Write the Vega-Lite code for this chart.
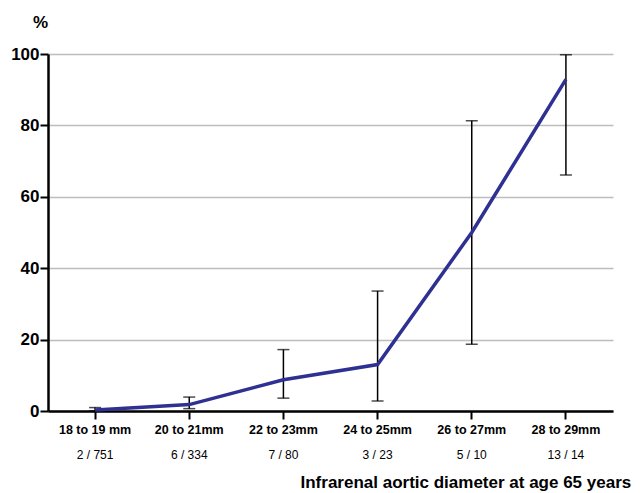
{
  "$schema": "https://vega.github.io/schema/vega-lite/v6.json",
  "width": 565,
  "height": 357,
  "autosize": {"type": "none"},
  "padding": {"left": 48, "top": 54, "right": 28, "bottom": 82},
  "background": "white",
  "config": {"font": "Liberation Sans", "view": {"stroke": null}},
  "data": {"values": [
    {"cat": "18 to 19 mm|2 / 751", "pct": 0.27, "lo": 0.03, "hi": 0.96},
    {"cat": "20 to 21mm|6 / 334", "pct": 1.8, "lo": 0.66, "hi": 3.9},
    {"cat": "22 to 23mm|7 / 80", "pct": 8.75, "lo": 3.6, "hi": 17.2},
    {"cat": "24 to 25mm|3 / 23", "pct": 13.0, "lo": 2.8, "hi": 33.6},
    {"cat": "26 to 27mm|5 / 10", "pct": 50.0, "lo": 18.7, "hi": 81.3},
    {"cat": "28 to 29mm|13 / 14", "pct": 92.9, "lo": 66.1, "hi": 99.8}
  ]},
  "resolve": {"axis": {"x": "independent"}},
  "layer": [
    {
      "mark": {"type": "rule", "color": "black", "strokeWidth": 1.5},
      "encoding": {
        "x": {"field": "cat", "type": "nominal", "sort": null,
          "scale": {"paddingInner": 0, "paddingOuter": 0},
          "axis": {"orient": "bottom", "labelExpr": "split(datum.value, '|')[1]", "labelAngle": 0, "domain": false, "ticks": false,
            "labelFontSize": 12, "labelFontWeight": "normal", "labelColor": "black", "labelPadding": 38,
            "title": "Infrarenal aortic diameter at age 65 years", "titleFontSize": 17, "titleFontWeight": "bold",
            "titleColor": "black", "titleAnchor": "start", "titleAlign": "left", "titleX": 252, "titlePadding": 14}},
        "y": {"field": "lo", "type": "quantitative",
          "scale": {"domain": [0, 100], "nice": false},
          "axis": {"values": [0, 20, 40, 60, 80, 100], "grid": true, "gridColor": "#bdbdbd", "gridWidth": 1.5,
            "domainColor": "black", "domainWidth": 2.5, "tickColor": "black", "tickWidth": 2, "tickSize": 8,
            "labelFontSize": 17, "labelFontWeight": "bold", "labelColor": "black", "labelPadding": 1,
            "title": "%", "titleAngle": 0, "titleFontSize": 17, "titleFontWeight": "bold", "titleColor": "black",
            "titleX": -8, "titleY": -23, "titleAlign": "center"}},
        "y2": {"field": "hi"}
      }
    },
    {
      "mark": {"type": "tick", "color": "black", "thickness": 1.5, "size": 12},
      "encoding": {
        "x": {"field": "cat", "type": "nominal", "sort": null, "axis": null},
        "y": {"field": "lo", "type": "quantitative"}
      }
    },
    {
      "mark": {"type": "tick", "color": "black", "thickness": 1.5, "size": 12},
      "encoding": {
        "x": {"field": "cat", "type": "nominal", "sort": null, "axis": null},
        "y": {"field": "hi", "type": "quantitative"}
      }
    },
    {
      "mark": {"type": "line", "color": "#2E3192", "strokeWidth": 3.5},
      "encoding": {
        "x": {"field": "cat", "type": "nominal", "sort": null,
          "axis": {"orient": "bottom", "labelExpr": "split(datum.value, '|')[0]", "labelAngle": 0, "domainColor": "black", "domainWidth": 2.5,
            "tickColor": "black", "tickWidth": 2, "tickSize": 8, "labelFontSize": 12.5, "labelFontWeight": "bold",
            "labelColor": "black", "labelPadding": 4, "title": null}},
        "y": {"field": "pct", "type": "quantitative"}
      }
    }
  ]
}
